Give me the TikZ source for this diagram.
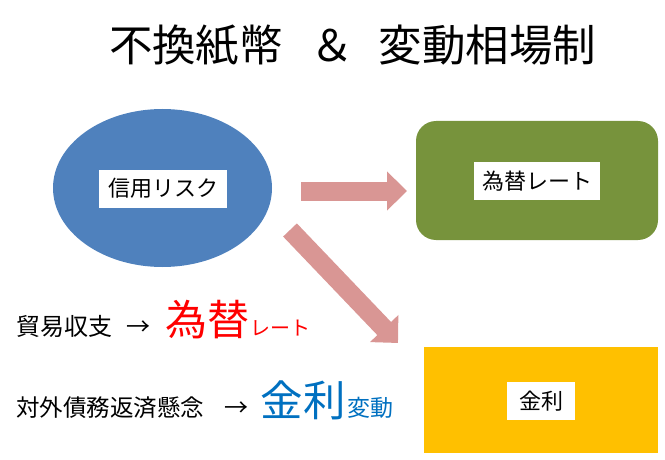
\documentclass[tikz,border=0pt]{standalone}
\usepackage{fontspec}
\setmainfont{Noto Sans CJK JP}
\usetikzlibrary{arrows.meta,shapes.geometric}
\definecolor{elblue}{HTML}{4F81BD}
\definecolor{boxgreen}{HTML}{77933C}
\definecolor{boxyellow}{HTML}{FFC000}
\definecolor{arrpink}{HTML}{D99694}
\definecolor{txtblue}{HTML}{0070C0}
\tikzset{
  labelbox/.style={fill=white, inner sep=0pt, minimum height=38pt, font=\fontsize{22}{22}\selectfont},
  blockarrow/.style={draw=arrpink, line width=19pt, line cap=butt,
    -{Triangle[length=20pt, width=38pt, fill=arrpink]}},
  plain/.style={inner sep=0pt, anchor=base west},
  titlefont/.style={inner sep=0pt, anchor=base, font=\fontsize{43.5}{43.5}\selectfont},
}
\begin{document}
\begin{tikzpicture}[x=1pt, y=-1pt]
\useasboundingbox (0,0) rectangle (665,460);
% title
\node[titlefont] (title1) at (196,62) {不換紙幣};
\node[titlefont] (titleamp) at (332,62) {＆};
\node[titlefont] (title2) at (487.5,62) {変動相場制};
% shapes
\node[ellipse, fill=elblue, minimum width=219pt, minimum height=158pt, inner sep=0pt] (risk) at (162.5,188) {};
\node[labelbox, minimum width=128pt] (risklbl) at (163,188.5) {信用リスク};
\node[fill=boxgreen, rounded corners=20pt, minimum width=242pt, minimum height=119pt, inner sep=0pt] (fx) at (537,180.5) {};
\node[labelbox, minimum width=126pt] (fxlbl) at (537,181) {為替レート};
\node[fill=boxyellow, minimum width=234pt, minimum height=106pt, inner sep=0pt] (ir) at (541,400) {};
\node[labelbox, minimum width=68pt] (irlbl) at (541,401) {金利};
% arrows
\coordinate (a1s) at (301,191);
\coordinate (a1e) at (407,191);
\coordinate (a2s) at (290,230);
\coordinate (a2e) at (398,343);
\draw[blockarrow] (a1s) -- (a1e);
\draw[blockarrow] (a2s) -- (a2e);
% left texts
\node[plain, font=\fontsize{24}{24}\selectfont] (t1) at (16,335) {貿易収支};
\node[inner sep=0pt, anchor=base, font=\fontsize{24}{24}\selectfont] (ar1) at (138.5,335) {→};
\node[plain, text=red, font=\fontsize{42}{42}\selectfont] (fxbig) at (165.5,335) {為替};
\node[plain, text=red, font=\fontsize{20}{20}\selectfont] (fxsmall) at (250,335) {レート};
\node[plain, font=\fontsize{23.5}{23.5}\selectfont] (t2) at (16,416.5) {対外債務返済懸念};
\node[inner sep=0pt, anchor=base, font=\fontsize{24}{24}\selectfont] (ar2) at (236,416.5) {→};
\node[plain, text=txtblue, font=\fontsize{42.5}{42.5}\selectfont] (irbig) at (260.5,416.5) {金利};
\node[plain, text=txtblue, font=\fontsize{23}{23}\selectfont] (irsmall) at (347,416.5) {変動};
\end{tikzpicture}
\end{document}
